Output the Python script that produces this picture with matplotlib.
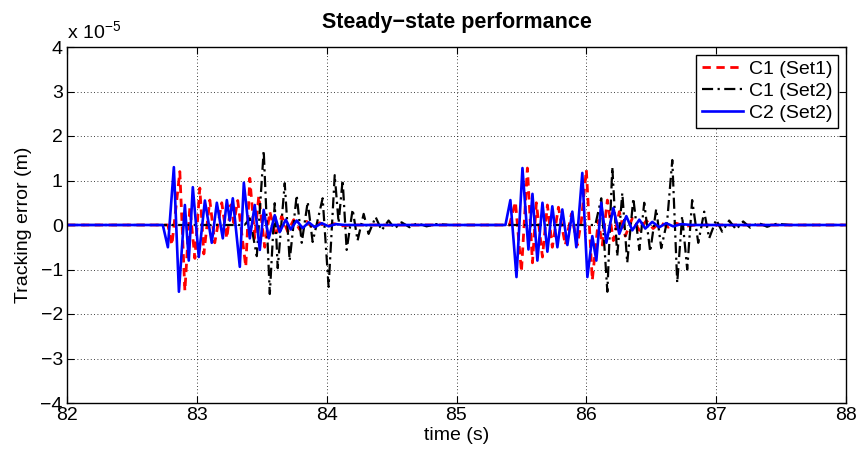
import numpy as np
import matplotlib
matplotlib.use("Agg")
import matplotlib.pyplot as plt

plt.rcParams['font.family'] = ['Liberation Sans', 'DejaVu Sans']
plt.rcParams['mathtext.fontset'] = 'custom'
plt.rcParams['mathtext.rm'] = 'Liberation Sans'

# Tracking error samples (time in s, error in units of 1e-5 m)
c1_set1_t = [82.0,
             82.777, 82.808, 82.869, 82.908, 82.946, 82.985, 83.023, 83.054, 83.100, 83.138,
             83.192, 83.231, 83.262, 83.285, 83.315, 83.377, 83.408, 83.446, 83.477, 83.523,
             83.562, 83.608, 83.654, 83.700, 83.746, 83.792, 83.846, 83.892, 83.946, 84.000,
             84.054, 84.123, 84.192,
             85.408, 85.454, 85.500, 85.546, 85.585, 85.615, 85.662, 85.700, 85.738, 85.785,
             85.838, 85.885, 85.931, 85.962, 86.000, 86.046, 86.092, 86.123, 86.162, 86.208,
             86.254, 86.300, 86.354, 86.408, 86.462, 86.515, 86.569, 86.631, 86.692, 86.762,
             86.838,
             88.0]
c1_set1_e = [0.0,
             0.0, -0.45, 1.2, -1.48, 0.4, -0.75, 0.83, -0.65, 0.56, -0.4,
             0.5, -0.3, 0.45, 0.05, 0.55, -0.94, 1.05, -0.3, 0.65, -0.5,
             0.3, -0.25, 0.2, -0.15, 0.12, -0.1, 0.08, -0.06, 0.05, -0.04,
             0.03, -0.02, 0.0,
             0.0, 0.52, -1.05, 1.28, -0.85, 0.5, -0.72, 0.45, -0.5, 0.4,
             -0.45, 0.25, -0.45, 0.1, 1.24, -1.24, 0.1, -0.45, 0.56, -0.35,
             0.3, -0.25, 0.15, -0.12, 0.1, -0.08, 0.06, -0.05, 0.04, -0.03,
             0.0,
             0.0]

c1_set2_t = [82.0,
             83.369, 83.408, 83.462, 83.515, 83.562, 83.600, 83.623, 83.677, 83.715, 83.769,
             83.808, 83.854, 83.892, 83.969, 84.015, 84.062, 84.092, 84.123, 84.154, 84.200,
             84.238, 84.285, 84.323, 84.377, 84.423, 84.477, 84.523, 84.577, 84.638, 84.700,
             84.769, 84.846, 84.946,
             86.069, 86.115, 86.162, 86.200, 86.238, 86.277, 86.315, 86.362, 86.408, 86.446,
             86.492, 86.538, 86.577, 86.623, 86.662, 86.700, 86.738, 86.777, 86.815, 86.862,
             86.908, 86.946, 87.000, 87.046, 87.100, 87.154, 87.208, 87.262, 87.323, 87.392,
             87.469, 87.562,
             88.0]
c1_set2_e = [0.0,
             0.0, 0.15, -0.7, 1.67, -1.55, 0.49, -0.97, 0.94, -0.8, 0.67,
             -0.4, 0.52, -0.38, 0.6, -1.39, 1.12, 0.05, 1.01, -0.56, 0.35,
             -0.35, 0.25, -0.2, 0.18, -0.12, 0.1, -0.08, 0.06, -0.05, 0.04,
             -0.03, 0.02, 0.0,
             0.0, 0.6, -1.5, 1.3, -0.7, 0.72, -0.85, 0.6, -0.56, 0.5,
             -0.6, 0.36, -0.52, 0.1, 1.46, -1.3, 0.2, -1.0, 0.56, -0.4,
             0.3, -0.3, 0.12, -0.15, 0.1, -0.1, 0.08, -0.06, 0.05, -0.04,
             0.03, 0.0,
             0.0]

c2_set2_t = [82.0,
             82.738, 82.777, 82.823, 82.862, 82.908, 82.938, 82.969, 83.015, 83.062, 83.115,
             83.154, 83.200, 83.231, 83.254, 83.277, 83.331, 83.362, 83.408, 83.446, 83.485,
             83.515, 83.554, 83.600, 83.638, 83.685, 83.723, 83.769, 83.815, 83.862, 83.908,
             83.962, 84.015, 84.069, 84.138,
             85.377, 85.415, 85.462, 85.508, 85.554, 85.585, 85.623, 85.662, 85.700, 85.738,
             85.777, 85.815, 85.854, 85.892, 85.923, 85.969, 86.008, 86.046, 86.077, 86.115,
             86.154, 86.208, 86.254, 86.308, 86.354, 86.408, 86.454, 86.508, 86.562, 86.615,
             86.669, 86.731, 86.808,
             88.0]
c2_set2_e = [0.0,
             0.0, -0.5, 1.3, -1.5, 0.45, -0.8, 0.85, -0.72, 0.55, -0.4,
             0.5, -0.3, 0.56, 0.1, 0.6, -0.94, 0.95, -0.3, 0.45, -0.56,
             0.34, -0.3, 0.22, -0.16, 0.12, -0.1, 0.1, -0.07, 0.06, -0.05,
             0.04, -0.03, 0.02, 0.0,
             0.0, 0.56, -1.17, 1.28, -0.55, 0.7, -0.8, 0.5, -0.6, 0.42,
             -0.5, 0.35, -0.45, 0.3, -0.5, 1.17, -1.17, -0.25, -0.8, 0.5,
             -0.4, 0.38, -0.2, 0.2, -0.12, 0.12, -0.08, 0.07, -0.05, 0.04,
             -0.03, 0.02, 0.0,
             0.0]

series_labels = ['C1 (Set1)', 'C1 (Set2)', 'C2 (Set2)']
x_ticks = [82, 83, 84, 85, 86, 87, 88]
y_ticks = [-4, -3, -2, -1, 0, 1, 2, 3, 4]

fig = plt.figure(figsize=(8.56, 4.5), dpi=100)
ax = fig.add_axes([67 / 856, 47 / 450, 779 / 856, 356 / 450])

ax.plot(c1_set1_t, c1_set1_e, color=(1, 0, 0), linestyle=(0, (3, 2)),
        linewidth=2.0, label=series_labels[0])
ax.plot(c1_set2_t, c1_set2_e, color='black', linestyle=(0, (5, 2, 1, 2)),
        linewidth=1.6, label=series_labels[1])
ax.plot(c2_set2_t, c2_set2_e, color=(0, 0, 1), linestyle='-',
        linewidth=1.9, label=series_labels[2])

ax.set_xlim(82, 88)
ax.set_ylim(-4, 4)
ax.set_xticks(x_ticks)
ax.set_yticks(y_ticks)
ax.set_yticklabels([str(v).replace('-', '\u2212') for v in y_ticks])
ax.tick_params(direction='in', length=5, width=0.8, top=True, right=True,
               labelsize=14, pad=3)
ax.grid(True, color='black', linestyle=(0, (1, 3)), linewidth=0.6)
for sp in ax.spines.values():
    sp.set_linewidth(1.0)

ax.set_xlabel('time (s)', fontsize=14, labelpad=2)
ax.set_ylabel('Tracking error (m)', fontsize=14, labelpad=6)
ax.set_title('Steady\u2212state performance', fontsize=15.5, fontweight='bold', pad=14)
ax.text(0.0, 1.012, 'x 10$^{\\mathregular{\u22125}}$',
        transform=ax.transAxes, fontsize=14, ha='left', va='bottom')

leg = ax.legend(loc='upper right', fontsize=14, frameon=True, fancybox=False,
                framealpha=1, edgecolor='black', borderaxespad=0.4,
                handlelength=2.1, labelspacing=0.22, handletextpad=0.3,
                borderpad=0.3)
leg.get_frame().set_linewidth(1.0)

fig.savefig('out.png', dpi=100)
